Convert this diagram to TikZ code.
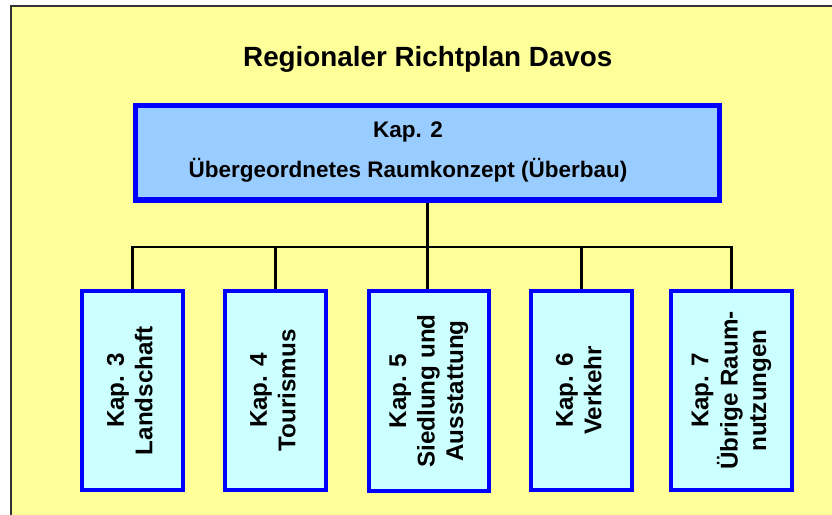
\documentclass[tikz,border=0pt]{standalone}
\usepackage{fontspec}
\setmainfont{Liberation Sans}
\usepackage{graphicx}
\usepackage{tikz}
\usetikzlibrary{calc}

\definecolor{planyellow}{HTML}{FFFF99}
\definecolor{topblue}{HTML}{99CCFF}
\definecolor{kapcyan}{HTML}{CCFFFF}
\definecolor{kapborder}{HTML}{0000FF}

\newcommand{\kaptext}[1]{\rotatebox{90}{\begin{tabular}{@{}c@{}}#1\end{tabular}}}

\begin{document}
\begin{tikzpicture}[x=1pt,y=-1pt,
    topbox/.style={draw=kapborder,fill=topblue,line width=5.6pt,inner sep=0pt,
                   minimum width=584pt,minimum height=94.5pt},
    kapbox/.style={draw=kapborder,fill=kapcyan,line width=4pt,inner sep=0pt,
                   minimum width=101pt,minimum height=199pt,
                   font=\fontsize{24.2}{28.5}\selectfont\bfseries},
    conn/.style={black,line width=2.8pt}]
                    \useasboundingbox (0,0) rectangle (832,514);
                    \draw [black!80,fill=planyellow,line width=1.5pt] (11,6) rectangle (836,518);
                    \node [anchor=base west,inner sep=0pt,font=\fontsize{27.8}{33}\selectfont\bfseries] (title) at (243,66.7) {Regionaler Richtplan Davos};
                    \node [topbox] (kap2) at (427.6,152.75) {};
                    \node [align=center,inner sep=0pt,font=\fontsize{22.5}{40}\selectfont\bfseries] (kap2text) at (408,152) {Kap. 2\\Übergeordnetes Raumkonzept (Überbau)};
                    \node [kapbox] (kap3) at (132.5,390.5) {\kaptext{Kap. 3\\Landschaft}};
                    \node [kapbox] (kap4) at (275.5,390.5) {\kaptext{Kap. 4\\Tourismus}};
                    \node [kapbox,minimum width=120pt,minimum height=200pt] (kap5) at (429,391) {\kaptext{Kap. 5\\Siedlung und\\Ausstattung}};
                    \node [kapbox] (kap6) at (581.5,390.5) {\kaptext{Kap. 6\\Verkehr}};
                    \node [kapbox,minimum width=121pt] (kap7) at (731.5,390.5) {\kaptext{Kap. 7\\Übrige Raum-\\nutzungen}};
                    \coordinate (bus) at (428,247);
                    \draw [conn] (kap2.south) -- (kap2.south |- kap5.north);
                    \draw [conn] (kap3.north) -- (kap3.north |- bus) -- (kap7.north |- bus) -- (kap7.north);
                    \foreach \kap in {kap4,kap6}
                    \draw [conn] (\kap.north |- bus) -- (\kap.north);
                \end{tikzpicture}
\end{document}
